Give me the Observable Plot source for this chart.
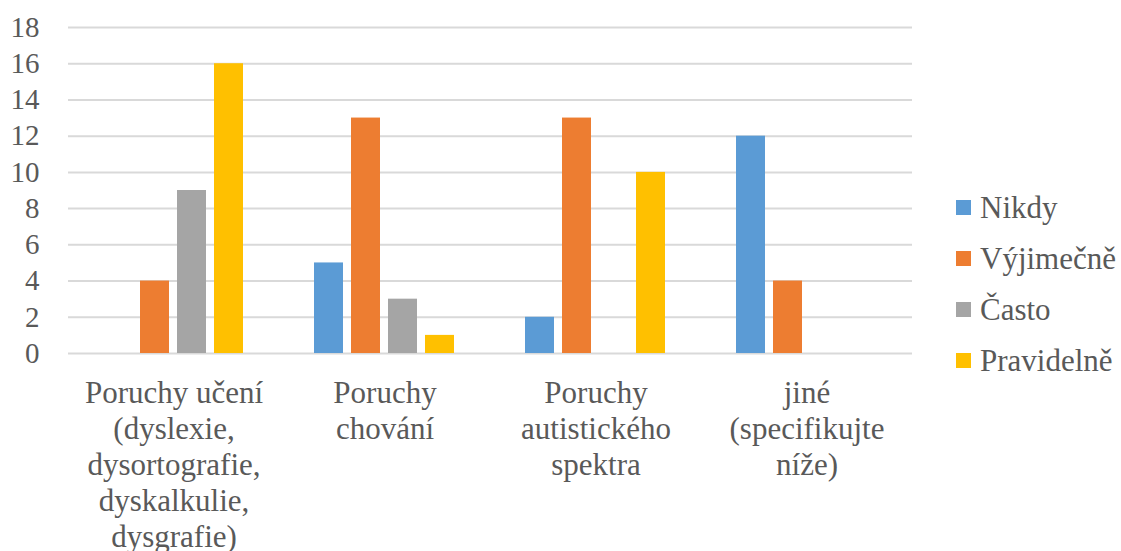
<!DOCTYPE html>
<html>
<head>
<meta charset="utf-8">
<script src="https://cdn.jsdelivr.net/npm/d3@7"></script>
<script src="https://cdn.jsdelivr.net/npm/@observablehq/plot@0.6"></script>
<style>
  body { margin: 0; font-family: 'Liberation Serif', serif; }
  .wrap { position: relative; width: 1121px; height: 551px; }
  .wrap svg { position: absolute; left: 0; top: 0; }
  .legend { position: absolute; left: 956px; top: 182px; font-size: 31px; color: #595959; z-index: 1; }
  .legend .item { display: flex; align-items: center; height: 51px; white-space: nowrap; }
  .legend .sw { width: 15px; height: 15px; margin-right: 9px; flex: none; }
</style>
</head>
<body>
<div class="wrap" id="chart">
  <div class="legend">
    <div class="item"><div class="sw" style="background:#5B9BD5"></div><span>Nikdy</span></div>
    <div class="item"><div class="sw" style="background:#ED7D31"></div><span>Výjimečně</span></div>
    <div class="item"><div class="sw" style="background:#A5A5A5"></div><span>Často</span></div>
    <div class="item"><div class="sw" style="background:#FFC000"></div><span>Pravidelně</span></div>
  </div>
</div>
<script>
// Categories (x groups) and their wrapped axis labels
const categories = [
  "Poruchy učení (dyslexie, dysortografie, dyskalkulie, dysgrafie)",
  "Poruchy chování",
  "Poruchy autistického spektra",
  "jiné (specifikujte níže)"
];
const categoryLabels = [
  "Poruchy učení\n(dyslexie,\ndysortografie,\ndyskalkulie,\ndysgrafie)",
  "Poruchy\nchování",
  "Poruchy\nautistického\nspektra",
  "jiné\n(specifikujte\nníže)"
];

// Series names and colours
const series = ["Nikdy", "Výjimečně", "Často", "Pravidelně"];
const colors = ["#5B9BD5", "#ED7D31", "#A5A5A5", "#FFC000"];

// Counts per category, one array per series
const nikdy = [0, 5, 2, 12];
const vyjimecne = [4, 13, 13, 4];
const casto = [9, 3, 0, 0];
const pravidelne = [16, 1, 10, 0];

// Y axis ticks
const yTicks = [0, 2, 4, 6, 8, 10, 12, 14, 16, 18];

const seriesValues = [nikdy, vyjimecne, casto, pravidelne];
const data = [];
categories.forEach((c, i) => {
  series.forEach((s, j) => data.push({category: c, series: s, value: seriesValues[j][i]}));
});
const labelOf = new Map(categories.map((c, i) => [c, categoryLabels[i]]));

const plot = Plot.plot({
  width: 1121,
  height: 551,
  marginTop: 27,
  marginBottom: 198,
  marginLeft: 67,
  marginRight: 208,
  style: {fontFamily: "'Liberation Serif', serif", color: "#595959"},
  fx: {domain: categories, padding: 0, label: null},
  x: {domain: series, paddingInner: 8 / 38, paddingOuter: 0.888, axis: null},
  y: {domain: [0, 18], label: null},
  color: {domain: series, range: colors},
  marks: [
    Plot.gridY(yTicks, {stroke: "#d9d9d9", strokeWidth: 2, strokeOpacity: 1}),
    Plot.barY(data, {fx: "category", x: "series", y: "value", fill: "series"}),
    Plot.axisY(yTicks, {tickSize: 0, tickPadding: 29, fontSize: 29, label: null}),
    Plot.axisFx({
      anchor: "bottom",
      tickSize: 0,
      tickPadding: 24,
      fontSize: 31,
      lineHeight: 1.16,
      label: null,
      tickFormat: (c) => labelOf.get(c)
    })
  ]
});

const chart = document.getElementById("chart");
chart.insertBefore(plot, chart.firstChild);
</script>
</body>
</html>
